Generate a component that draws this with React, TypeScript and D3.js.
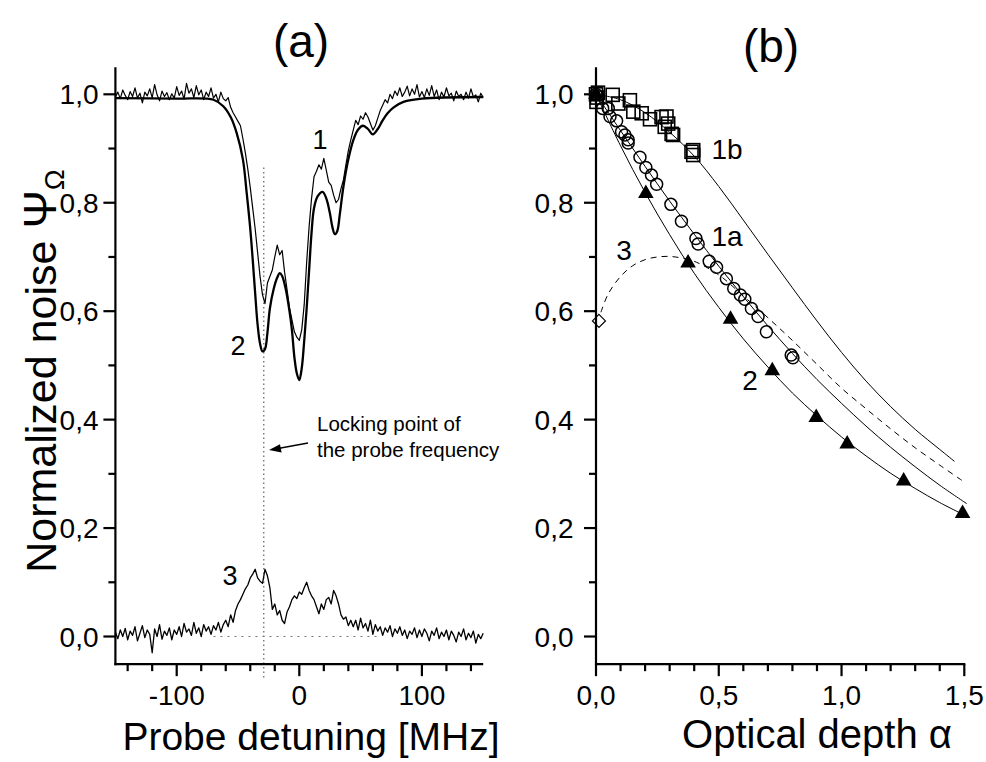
import React from "react";
import * as d3 from "d3";

const W = 986;
const H = 762;

// ---------- panel (a): noise spectra vs probe detuning ----------
// trace 1: noisy measured curve, [detuning MHz, normalized noise]
const trace1: [number, number][] = [
  [-150, 0.995], [-148, 1.004], [-146, 0.992], [-144, 1.008], [-142, 0.998], [-140, 0.99], [-138, 1.005], [-136, 0.996],
  [-134, 1.012], [-132, 0.993], [-130, 1.002], [-128, 0.984], [-126, 1.004], [-124, 0.997], [-122, 1.01], [-120, 0.994],
  [-118, 1.018], [-116, 0.999], [-114, 0.988], [-112, 1.006], [-110, 0.996], [-108, 1.003], [-106, 0.99], [-104, 1.001],
  [-102, 0.993], [-100, 1.014], [-98, 0.998], [-96, 1.006], [-94, 0.991], [-92, 1.02], [-90, 1.002], [-88, 1.01],
  [-86, 0.994], [-84, 1.016], [-82, 0.999], [-80, 1.008], [-78, 0.99], [-76, 1.004], [-74, 0.996], [-72, 1.012],
  [-70, 0.993], [-68, 1.0], [-66, 0.986], [-64, 1.004], [-62, 0.992], [-60, 0.988], [-58, 0.994], [-56, 0.976],
  [-54, 0.966], [-52, 0.958], [-50, 0.95], [-48, 0.942], [-46, 0.918], [-44, 0.892], [-42, 0.862], [-40, 0.828],
  [-38, 0.79], [-36, 0.752], [-34, 0.708], [-32, 0.664], [-30, 0.63], [-28, 0.614], [-26, 0.652], [-24, 0.664],
  [-22, 0.676], [-20, 0.7], [-18, 0.722], [-16, 0.704], [-14, 0.712], [-12, 0.672], [-10, 0.64], [-8, 0.606],
  [-6, 0.584], [-4, 0.562], [-2, 0.552], [0, 0.546], [2, 0.566], [4, 0.612], [6, 0.69], [8, 0.756],
  [10, 0.808], [12, 0.848], [14, 0.858], [16, 0.87], [18, 0.862], [20, 0.882], [22, 0.86], [24, 0.838],
  [26, 0.832], [28, 0.814], [30, 0.8], [32, 0.806], [34, 0.826], [36, 0.842], [38, 0.87], [40, 0.896],
  [42, 0.916], [44, 0.934], [46, 0.952], [48, 0.944], [50, 0.96], [52, 0.954], [54, 0.966], [56, 0.958],
  [58, 0.946], [60, 0.934], [62, 0.942], [64, 0.956], [66, 0.97], [68, 0.98], [70, 0.99], [72, 0.984],
  [74, 1.0], [76, 0.992], [78, 1.006], [80, 0.998], [82, 1.012], [84, 0.996], [86, 1.004], [88, 1.015],
  [90, 0.997], [92, 1.01], [94, 1.0], [96, 1.018], [98, 0.995], [100, 1.005], [102, 0.994], [104, 1.01],
  [106, 0.998], [108, 1.016], [110, 0.996], [112, 1.008], [114, 0.99], [116, 1.004], [118, 0.995], [120, 1.012],
  [122, 0.997], [124, 1.002], [126, 0.988], [128, 1.006], [130, 0.996], [132, 1.0], [134, 0.99], [136, 1.004],
  [138, 0.993], [140, 1.01], [142, 0.995], [144, 0.999], [146, 0.986], [148, 1.002], [150, 0.994],
];

// trace 2: smoother measured curve
const trace2: [number, number][] = [
  [-150, 0.993], [-100, 0.992], [-70, 0.99], [-62, 0.978], [-56, 0.958], [-51, 0.928], [-46, 0.88], [-43, 0.82],
  [-40, 0.752], [-38, 0.695], [-36, 0.633], [-34, 0.575], [-32, 0.54], [-30, 0.526], [-28, 0.53], [-26, 0.56],
  [-24, 0.605], [-21, 0.64], [-18, 0.662], [-16, 0.67], [-14, 0.665], [-11, 0.64], [-8, 0.6], [-6, 0.565],
  [-4, 0.515], [-2, 0.485], [0, 0.473], [2, 0.495], [4, 0.545], [6, 0.605], [8, 0.675], [10, 0.745],
  [12, 0.79], [15, 0.812], [19, 0.82], [22, 0.808], [25, 0.78], [27, 0.755], [29, 0.742], [31, 0.748],
  [33, 0.778], [36, 0.83], [40, 0.88], [44, 0.915], [48, 0.935], [52, 0.942], [56, 0.936], [60, 0.926],
  [64, 0.936], [68, 0.952], [72, 0.965], [77, 0.976], [85, 0.986], [100, 0.992], [150, 0.995],
];

// trace 3: residual noise at the bottom
const trace3: [number, number][] = [
  [-150, 0.008], [-148, -0.004], [-146, 0.012], [-144, 0.0], [-142, 0.015], [-140, -0.006], [-138, 0.01], [-136, 0.002],
  [-134, 0.018], [-132, -0.008], [-130, 0.006], [-128, 0.02], [-126, -0.002], [-124, 0.012], [-122, 0.004], [-120, -0.03],
  [-118, 0.014], [-116, 0.0], [-114, 0.022], [-112, -0.005], [-110, 0.01], [-108, 0.002], [-106, 0.016], [-104, -0.006],
  [-102, 0.012], [-100, 0.004], [-98, 0.018], [-96, 0.0], [-94, 0.024], [-92, 0.008], [-90, 0.014], [-88, 0.002],
  [-86, 0.026], [-84, 0.006], [-82, 0.016], [-80, 0.0], [-78, 0.022], [-76, 0.01], [-74, 0.018], [-72, 0.004],
  [-70, 0.02], [-68, 0.012], [-66, 0.026], [-64, 0.008], [-62, 0.022], [-60, 0.03], [-58, 0.018], [-56, 0.04],
  [-54, 0.026], [-52, 0.048], [-50, 0.06], [-48, 0.068], [-46, 0.078], [-44, 0.088], [-42, 0.095], [-40, 0.108],
  [-38, 0.115], [-36, 0.124], [-34, 0.108], [-32, 0.102], [-30, 0.098], [-28, 0.124], [-26, 0.112], [-24, 0.09],
  [-22, 0.05], [-20, 0.06], [-18, 0.04], [-16, 0.048], [-14, 0.03], [-12, 0.024], [-10, 0.045], [-8, 0.055],
  [-6, 0.068], [-4, 0.075], [-2, 0.07], [0, 0.082], [2, 0.078], [4, 0.09], [6, 0.1], [8, 0.085],
  [10, 0.075], [12, 0.068], [14, 0.055], [16, 0.042], [18, 0.06], [20, 0.05], [22, 0.068], [24, 0.072],
  [26, 0.06], [28, 0.085], [30, 0.075], [32, 0.06], [34, 0.04], [36, 0.032], [38, 0.036], [40, 0.02],
  [42, 0.03], [44, 0.018], [46, 0.03], [48, 0.012], [50, 0.034], [52, 0.016], [54, 0.024], [56, 0.01],
  [58, 0.03], [60, 0.004], [62, 0.022], [64, 0.01], [66, 0.018], [68, 0.002], [70, 0.016], [72, 0.008],
  [74, 0.02], [76, 0.0], [78, 0.014], [80, 0.006], [82, 0.018], [84, 0.002], [86, 0.012], [88, -0.004],
  [90, 0.01], [92, 0.004], [94, 0.016], [96, -0.002], [98, 0.012], [100, 0.0], [102, 0.014], [104, 0.006],
  [106, -0.008], [108, 0.01], [110, 0.002], [112, 0.016], [114, -0.004], [116, 0.008], [118, 0.0], [120, 0.012],
  [122, -0.006], [124, 0.01], [126, 0.002], [128, -0.01], [130, 0.008], [132, 0.0], [134, 0.014], [136, -0.006],
  [138, 0.006], [140, -0.002], [142, 0.01], [144, -0.012], [146, 0.004], [148, -0.004], [150, 0.006],
];

const lockDetuning = -29;
const zeroLineRange: [number, number] = [-70, 64];

const detuningTicks = [-100, 0, 100];
const detuningMinor = [-140, -120, -80, -60, -40, -20, 20, 40, 60, 80, 120, 140];
const noiseTicks = [0, 0.2, 0.4, 0.6, 0.8, 1.0];
const noiseMinor = [0.1, 0.3, 0.5, 0.7, 0.9];

// ---------- panel (b): noise vs optical depth ----------
const squares1b: [number, number][] = [
  [0, 1.0], [0.004, 0.994], [0.008, 1.003], [0.002, 0.986], [0.068, 0.999], [0.091, 0.983], [0.138, 0.989],
  [0.152, 0.968], [0.186, 0.965], [0.22, 0.954], [0.267, 0.958], [0.287, 0.959], [0.28, 0.94], [0.294, 0.946],
  [0.308, 0.927], [0.314, 0.925], [0.389, 0.894], [0.396, 0.888], [0.396, 0.897],
];
const circles1a: [number, number][] = [
  [0, 1.0], [0.027, 0.974], [0.05, 0.974], [0.057, 0.959], [0.084, 0.951], [0.104, 0.931], [0.118, 0.925],
  [0.131, 0.916], [0.131, 0.91], [0.179, 0.884], [0.203, 0.865], [0.226, 0.851], [0.247, 0.834], [0.305, 0.797],
  [0.348, 0.766], [0.407, 0.734], [0.416, 0.724], [0.461, 0.692], [0.491, 0.681], [0.531, 0.66], [0.561, 0.642],
  [0.588, 0.63], [0.606, 0.622], [0.633, 0.605], [0.66, 0.59], [0.694, 0.562], [0.795, 0.519], [0.802, 0.514],
];
const triangles2: [number, number][] = [
  [0, 1.0], [0.203, 0.817], [0.375, 0.689], [0.548, 0.585], [0.718, 0.49], [0.897, 0.404], [1.023, 0.355],
  [1.253, 0.287], [1.493, 0.227],
];
const diamonds3: [number, number][] = [[0.012, 0.582]];

// model curves
const fit1b: [number, number][] = [
  [0, 1.0], [0.1, 0.99], [0.2, 0.966], [0.3, 0.93], [0.4, 0.886], [0.5, 0.83], [0.6, 0.768], [0.7, 0.705],
  [0.8, 0.643], [0.9, 0.582], [1.0, 0.524], [1.1, 0.471], [1.2, 0.424], [1.3, 0.382], [1.4, 0.345], [1.46, 0.323],
];
const fit1a: [number, number][] = [
  [0, 1.0], [0.1, 0.933], [0.2, 0.867], [0.3, 0.803], [0.4, 0.742], [0.5, 0.683], [0.6, 0.627], [0.7, 0.573],
  [0.8, 0.522], [0.9, 0.474], [1.0, 0.43], [1.1, 0.388], [1.2, 0.349], [1.3, 0.313], [1.4, 0.279], [1.51, 0.245],
];
const fit2: [number, number][] = [
  [0, 1.0], [0.1, 0.905], [0.2, 0.819], [0.3, 0.741], [0.4, 0.67], [0.5, 0.607], [0.6, 0.549], [0.7, 0.497],
  [0.8, 0.449], [0.9, 0.407], [1.0, 0.368], [1.1, 0.333], [1.2, 0.301], [1.3, 0.273], [1.4, 0.247], [1.5, 0.224],
];
const fit3: [number, number][] = [
  [0.02, 0.598], [0.05, 0.632], [0.1, 0.664], [0.15, 0.684], [0.2, 0.695], [0.25, 0.7], [0.3, 0.701], [0.35, 0.698],
  [0.4, 0.692], [0.5, 0.667], [0.6, 0.628], [0.7, 0.588], [0.8, 0.546], [0.9, 0.502], [1.0, 0.458], [1.1, 0.42],
  [1.2, 0.383], [1.3, 0.348], [1.4, 0.316], [1.49, 0.288],
];

const depthTicks = [0, 0.5, 1.0, 1.5];
const depthMinor = [0.1, 0.2, 0.3, 0.4, 0.6, 0.7, 0.8, 0.9, 1.1, 1.2, 1.3, 1.4];

const FONT = "'Liberation Sans', Arial, Helvetica, sans-serif";
const fmt = (v: number) => v.toFixed(1).replace(".", ",");

export default function App() {
  const y = d3.scaleLinear().domain([0, 1]).range([636.5, 94.3]);
  const yBottom = y(-0.051);
  const yTop = y(1.05);

  const xA = d3.scaleLinear().domain([-150, 150]).range([115.4, 483.2]);
  const xB = d3.scaleLinear().domain([0, 1.5]).range([596, 964.3]);

  const lineA = d3.line<[number, number]>().x((d) => xA(d[0])).y((d) => y(d[1]));
  const smoothA = d3
    .line<[number, number]>()
    .x((d) => xA(d[0]))
    .y((d) => y(d[1]))
    .curve(d3.curveCatmullRom.alpha(0.5));
  const smoothB = d3
    .line<[number, number]>()
    .x((d) => xB(d[0]))
    .y((d) => y(d[1]))
    .curve(d3.curveCatmullRom.alpha(0.5));

  const tri = d3.symbol().type(d3.symbolTriangle).size(105)();
  const axisW = 2.2;
  const tickLabelY = 705;

  const yAxis = (x0: number, labelX: number) => (
    <g>
      <line x1={x0} x2={x0} y1={yTop} y2={yBottom + 1} stroke="#000" strokeWidth={axisW} />
      {noiseTicks.map((t) => (
        <g key={"M" + t}>
          <line x1={x0 - 12} x2={x0} y1={y(t)} y2={y(t)} stroke="#000" strokeWidth={axisW} />
          <text x={labelX} y={y(t)} dy="0.36em" textAnchor="end" fontSize={28} fontFamily={FONT}>
            {fmt(t)}
          </text>
        </g>
      ))}
      {noiseMinor.map((t) => (
        <line key={"m" + t} x1={x0 - 7} x2={x0} y1={y(t)} y2={y(t)} stroke="#000" strokeWidth={axisW} />
      ))}
    </g>
  );

  return (
    <svg
      width={W}
      height={H}
      viewBox={`0 0 ${W} ${H}`}
      style={{ display: "block", position: "absolute", left: 0, top: 0, background: "#fff" }}
    >
      <rect width={W} height={H} fill="#fff" />

      {/* ---------- panel (a) ---------- */}
      <text x={301} y={57} textAnchor="middle" fontSize={46} fontFamily={FONT}>
        (a)
      </text>

      {/* locking point and zero reference */}
      <line
        x1={xA(lockDetuning)}
        x2={xA(lockDetuning)}
        y1={y(0.865)}
        y2={yBottom + 14}
        stroke="#777"
        strokeWidth={1.4}
        strokeDasharray="1.5 3"
      />
      <line
        x1={xA(zeroLineRange[0])}
        x2={xA(zeroLineRange[1])}
        y1={y(0)}
        y2={y(0)}
        stroke="#777"
        strokeWidth={1.2}
        strokeDasharray="2 5"
      />

      <path d={smoothA(trace2) ?? ""} fill="none" stroke="#000" strokeWidth={2.3} />
      <path d={lineA(trace1) ?? ""} fill="none" stroke="#000" strokeWidth={1.2} strokeLinejoin="round" />
      <path d={lineA(trace3) ?? ""} fill="none" stroke="#000" strokeWidth={1.3} strokeLinejoin="round" />

      <text x={320} y={149} textAnchor="middle" fontSize={27} fontFamily={FONT}>1</text>
      <text x={238} y={355} textAnchor="middle" fontSize={27} fontFamily={FONT}>2</text>
      <text x={230} y={585} textAnchor="middle" fontSize={27} fontFamily={FONT}>3</text>

      {/* annotation */}
      <text x={317} y={431} fontSize={20.5} fontFamily={FONT}>Locking point of</text>
      <text x={317} y={457} fontSize={20.5} fontFamily={FONT}>the probe frequency</text>
      <line x1={308} y1={443} x2={278} y2={448.5} stroke="#000" strokeWidth={1.3} />
      <path d="M269,450 L280,444.2 L281.6,452.6 Z" fill="#000" />

      {/* axes (a) */}
      {yAxis(xA(-150), 98.5)}
      <line x1={xA(-150) - 1} x2={xA(150)} y1={yBottom} y2={yBottom} stroke="#000" strokeWidth={axisW} />
      {detuningTicks.map((t) => (
        <g key={"ax" + t}>
          <line x1={xA(t)} x2={xA(t)} y1={yBottom} y2={yBottom + 12} stroke="#000" strokeWidth={axisW} />
          <text x={xA(t)} y={tickLabelY} textAnchor="middle" fontSize={28} fontFamily={FONT}>
            {t}
          </text>
        </g>
      ))}
      {detuningMinor.map((t) => (
        <line key={"axm" + t} x1={xA(t)} x2={xA(t)} y1={yBottom} y2={yBottom + 7} stroke="#000" strokeWidth={axisW} />
      ))}
      <text x={311} y={750} textAnchor="middle" fontSize={39} fontFamily={FONT}>
        Probe detuning [MHz]
      </text>

      <text transform="translate(56,371) rotate(-90)" textAnchor="middle" fontSize={43} fontFamily={FONT}>
        Normalized noise{"  "}
        <tspan fontSize={46}>Ψ</tspan>
        <tspan fontSize={28} dy={8}>Ω</tspan>
      </text>

      {/* ---------- panel (b) ---------- */}
      <text x={771} y={62} textAnchor="middle" fontSize={46} fontFamily={FONT}>
        (b)
      </text>

      <path d={smoothB(fit1b) ?? ""} fill="none" stroke="#000" strokeWidth={1} />
      <path d={smoothB(fit1a) ?? ""} fill="none" stroke="#000" strokeWidth={1} />
      <path d={smoothB(fit2) ?? ""} fill="none" stroke="#000" strokeWidth={1} />
      <path d={smoothB(fit3) ?? ""} fill="none" stroke="#000" strokeWidth={1} strokeDasharray="6 5" />

      {squares1b.map((d, i) => (
        <rect
          key={"s" + i}
          x={xB(d[0]) - 6.5}
          y={y(d[1]) - 6.5}
          width={13}
          height={13}
          fill="none"
          stroke="#000"
          strokeWidth={1.6}
        />
      ))}
      {circles1a.map((d, i) => (
        <circle key={"c" + i} cx={xB(d[0])} cy={y(d[1])} r={6} fill="none" stroke="#000" strokeWidth={1.5} />
      ))}
      {triangles2.map((d, i) => (
        <path key={"t" + i} d={tri ?? ""} transform={`translate(${xB(d[0])},${y(d[1])})`} fill="#000" />
      ))}
      {diamonds3.map((d, i) => (
        <path
          key={"d" + i}
          d="M0,-6.5 L6.5,0 L0,6.5 L-6.5,0 Z"
          transform={`translate(${xB(d[0])},${y(d[1])})`}
          fill="none"
          stroke="#000"
          strokeWidth={1.2}
        />
      ))}

      <text x={727} y={159} textAnchor="middle" fontSize={28} fontFamily={FONT}>1b</text>
      <text x={727} y={246} textAnchor="middle" fontSize={28} fontFamily={FONT}>1a</text>
      <text x={624} y={260} textAnchor="middle" fontSize={28} fontFamily={FONT}>3</text>
      <text x={750} y={390} textAnchor="middle" fontSize={28} fontFamily={FONT}>2</text>

      {/* axes (b) */}
      {yAxis(xB(0), 573.5)}
      <line x1={xB(0) - 1} x2={xB(1.5) + 1} y1={yBottom} y2={yBottom} stroke="#000" strokeWidth={axisW} />
      {depthTicks.map((t) => (
        <g key={"bx" + t}>
          <line x1={xB(t)} x2={xB(t)} y1={yBottom} y2={yBottom + 12} stroke="#000" strokeWidth={axisW} />
          <text x={xB(t)} y={tickLabelY} textAnchor="middle" fontSize={28} fontFamily={FONT}>
            {fmt(t)}
          </text>
        </g>
      ))}
      {depthMinor.map((t) => (
        <line key={"bxm" + t} x1={xB(t)} x2={xB(t)} y1={yBottom} y2={yBottom + 7} stroke="#000" strokeWidth={axisW} />
      ))}
      <text x={817} y={748} textAnchor="middle" fontSize={40} fontFamily={FONT}>
        Optical depth α
      </text>
    </svg>
  );
}
